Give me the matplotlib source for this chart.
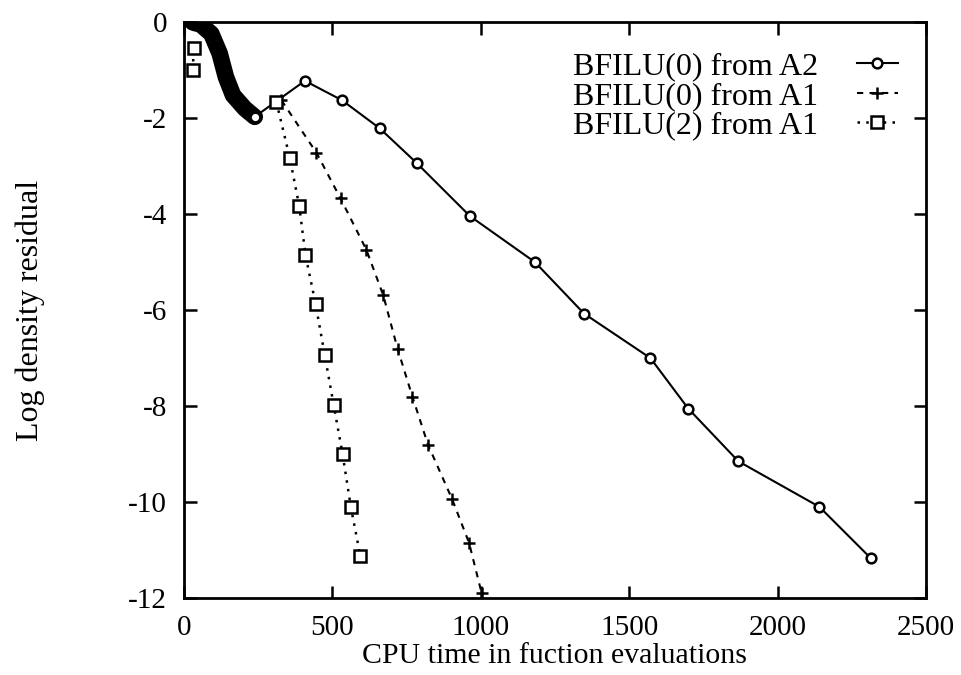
import matplotlib
matplotlib.use("Agg")
import matplotlib.pyplot as plt

plt.rcParams['font.family'] = ['Liberation Serif', 'DejaVu Serif']

# BFILU(0) from A2 -- dense early iterations (thick band) then sparse points
a2_band_x = [30, 40, 54, 93, 121, 142, 166, 206, 239]
a2_band_y = [0.0, -0.02, -0.03, -0.24, -0.65, -1.14, -1.52, -1.80, -1.97]
a2_x = [239, 408, 533, 660, 784, 964, 1183, 1348, 1572, 1699, 1868, 2141, 2314]
a2_y = [-1.97, -1.22, -1.625, -2.21, -2.93, -4.04, -5.0, -6.07, -7.0, -8.05, -9.15, -10.1, -11.17]

# BFILU(0) from A1
a1p_x = [329, 447, 528, 615, 672, 720, 770, 823, 904, 961, 1003]
a1p_y = [-1.625, -2.72, -3.67, -4.74, -5.69, -6.8, -7.8, -8.81, -9.94, -10.85, -11.89]

# BFILU(2) from A1 (early iterations near the axis, then the converging part)
a1s_start_x = [31, 33]
a1s_start_y = [-1.0, -0.53]
a1s_x = [312, 357, 389, 410, 444, 475, 505, 535, 563, 595]
a1s_y = [-1.66, -2.82, -3.83, -4.85, -5.87, -6.94, -7.98, -9.0, -10.11, -11.13]

labels = ["BFILU(0) from A2", "BFILU(0) from A1", "BFILU(2) from A1"]
xticks = [0, 500, 1000, 1500, 2000, 2500]
yticks = [0, -2, -4, -6, -8, -10, -12]

fig = plt.figure(figsize=(9.62, 6.75), dpi=100)
ax = fig.add_axes([0.191, 0.114, 0.7716, 0.853])

sq_style = dict(color='black', lw=1.8, dashes=(1, 2.5), marker='s', ms=8.5,
                mfc='white', mec='black', mew=1.8)

ax.plot(a1s_start_x, a1s_start_y, **sq_style)
ax.plot(a2_band_x, a2_band_y, '-', color='black', lw=12, solid_capstyle='round',
        solid_joinstyle='round')
ax.plot(a2_x, a2_y, '-', color='black', lw=1.5, marker='o', ms=7, mfc='white',
        mec='black', mew=1.8, label=labels[0])
ax.plot(a1p_x, a1p_y, color='black', lw=1.5, dashes=(3, 3), marker='+', ms=9,
        mew=1.8, label=labels[1])
ax.plot(a1s_x, a1s_y, label=labels[2], **sq_style)

ax.set_xlim(0, 2500)
ax.set_ylim(-12, 0)
ax.set_xticks(xticks)
ax.set_yticks(yticks)
ax.set_xticklabels([str(t) for t in xticks])
ax.set_yticklabels([str(t) for t in yticks])
ax.tick_params(direction='in', length=9, width=1.8, top=True, right=True,
               labelsize=21)
ax.tick_params(axis='x', pad=12)
ax.tick_params(axis='y', pad=12)
for s in ax.spines.values():
    s.set_linewidth(2)

ax.set_xlabel("CPU time in fuction evaluations", fontsize=21.5, labelpad=2)
ax.set_ylabel("Log density residual", fontsize=23, labelpad=60)

leg = ax.legend(loc='upper right', bbox_to_anchor=(0.9623, 0.948), frameon=False,
                markerfirst=False, fontsize=23, handlelength=1.3, handletextpad=1.2,
                labelspacing=0.0, borderaxespad=0.0, borderpad=0.0)

fig.savefig("out.png", dpi=100)
